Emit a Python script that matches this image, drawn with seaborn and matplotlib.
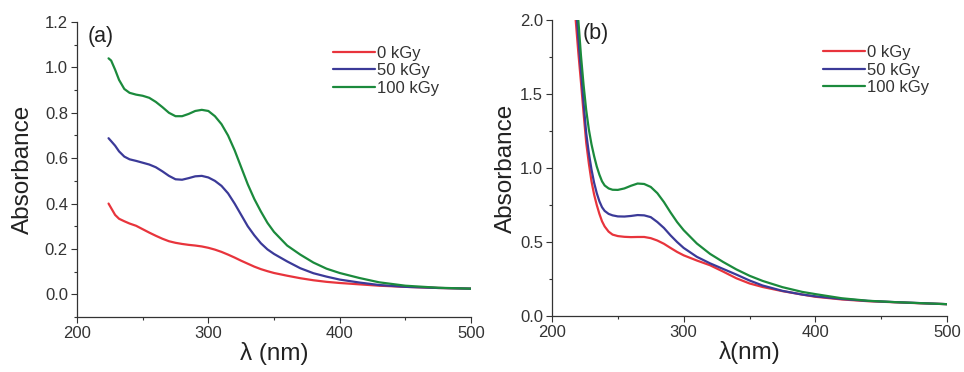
import numpy as np
import pandas as pd
import matplotlib
matplotlib.use("Agg")
import matplotlib.pyplot as plt
from matplotlib.ticker import MultipleLocator
import seaborn as sns

# Panel (a) spectra
wl_a = [224, 226, 229, 232, 236, 240, 245, 250, 255, 260, 265, 270, 275, 280, 285,
        290, 295, 300, 305, 310, 315, 320, 325, 330, 335, 340, 345, 350, 360, 370,
        380, 390, 400, 415, 430, 450, 475, 500]
a_0kgy = [0.40, 0.38, 0.35, 0.333, 0.322, 0.312, 0.302, 0.287, 0.272, 0.258, 0.245,
          0.234, 0.227, 0.222, 0.218, 0.215, 0.211, 0.205, 0.197, 0.187, 0.175,
          0.162, 0.148, 0.135, 0.122, 0.111, 0.102, 0.094, 0.082, 0.071, 0.062,
          0.055, 0.05, 0.044, 0.038, 0.033, 0.028, 0.025]
a_50kgy = [0.688, 0.675, 0.655, 0.63, 0.607, 0.595, 0.588, 0.58, 0.572, 0.56, 0.542,
           0.522, 0.507, 0.505, 0.512, 0.52, 0.522, 0.515, 0.50, 0.478, 0.445, 0.40,
           0.35, 0.30, 0.26, 0.225, 0.198, 0.178, 0.145, 0.115, 0.093, 0.078, 0.065,
           0.052, 0.041, 0.033, 0.028, 0.025]
a_100kgy = [1.04, 1.03, 0.99, 0.945, 0.905, 0.888, 0.88, 0.875, 0.866, 0.848, 0.825,
            0.80, 0.785, 0.785, 0.795, 0.808, 0.813, 0.808, 0.785, 0.75, 0.70, 0.635,
            0.56, 0.485, 0.42, 0.365, 0.315, 0.275, 0.215, 0.175, 0.14, 0.113, 0.094,
            0.072, 0.053, 0.038, 0.029, 0.025]

# Panel (b) spectra
wl_b = [214, 216, 218, 220, 222, 224, 226, 228, 230, 232, 234, 236, 238, 240, 243,
        246, 250, 255, 260, 265, 270, 275, 280, 285, 290, 295, 300, 310, 320, 330,
        340, 350, 360, 375, 390, 400, 420, 440, 460, 480, 500]
b_0kgy = [2.6, 2.28, 2.0, 1.78, 1.58, 1.37, 1.17, 1.03, 0.91, 0.82, 0.75, 0.69, 0.64,
          0.605, 0.57, 0.55, 0.54, 0.535, 0.533, 0.534, 0.534, 0.526, 0.51, 0.488,
          0.46, 0.433, 0.41, 0.375, 0.343, 0.30, 0.255, 0.22, 0.196, 0.168, 0.145,
          0.13, 0.112, 0.10, 0.093, 0.086, 0.08]
b_50kgy = [2.75, 2.45, 2.13, 1.88, 1.66, 1.44, 1.235, 1.10, 0.99, 0.90, 0.83, 0.775,
           0.735, 0.71, 0.69, 0.68, 0.673, 0.672, 0.676, 0.682, 0.68, 0.668, 0.635,
           0.595, 0.545, 0.50, 0.46, 0.40, 0.356, 0.318, 0.28, 0.24, 0.206, 0.17,
           0.145, 0.133, 0.115, 0.102, 0.094, 0.087, 0.08]
b_100kgy = [2.95, 2.6, 2.28, 2.0, 1.76, 1.56, 1.39, 1.26, 1.16, 1.08, 1.01, 0.955,
            0.91, 0.882, 0.862, 0.853, 0.852, 0.862, 0.88, 0.895, 0.892, 0.872, 0.83,
            0.77, 0.70, 0.635, 0.58, 0.49, 0.42, 0.365, 0.315, 0.272, 0.237, 0.195,
            0.163, 0.148, 0.12, 0.103, 0.094, 0.087, 0.08]

doses = ["0 kGy", "50 kGy", "100 kGy"]
colors = ["#e8343c", "#3b3a98", "#1b8a3c"]


def long_form(wl, series):
    frames = []
    for dose, vals in zip(doses, series):
        frames.append(pd.DataFrame({"wl": wl, "abs": vals, "dose": dose}))
    return pd.concat(frames, ignore_index=True)


df_a = long_form(wl_a, [a_0kgy, a_50kgy, a_100kgy])
df_b = long_form(wl_b, [b_0kgy, b_50kgy, b_100kgy])

sns.set_style("ticks")
plt.rcParams["font.family"] = ["Liberation Sans", "DejaVu Sans"]
plt.rcParams["axes.edgecolor"] = "#333333"
plt.rcParams["xtick.color"] = "#333333"
plt.rcParams["ytick.color"] = "#333333"

fig = plt.figure(figsize=(9.64, 3.72), dpi=100)
ax_a = fig.add_axes([0.0799, 0.1478, 0.4087, 0.7930])
ax_b = fig.add_axes([0.5726, 0.1505, 0.4098, 0.7958])

panels = [
    (ax_a, df_a, (-0.1, 1.2), 0.2, 0.1, "λ (nm)", "(a)", (0.028, 0.95), (0.65, 0.92), 8),
    (ax_b, df_b, (0.0, 2.0), 0.5, 0.25, "λ(nm)", "(b)", (0.078, 0.953), (0.686, 0.915), 2),
]

for ax, df, ylim, ymaj, ymin, xlabel, tag, tag_pos, leg_pos, ypad in panels:
    sns.lineplot(data=df, x="wl", y="abs", hue="dose", hue_order=doses,
                 palette=colors, linewidth=1.6, ax=ax, sort=False)
    ax.set_xlim(200, 500)
    ax.set_ylim(*ylim)
    ax.xaxis.set_major_locator(MultipleLocator(100))
    ax.xaxis.set_minor_locator(MultipleLocator(50))
    ax.yaxis.set_major_locator(MultipleLocator(ymaj))
    ax.yaxis.set_minor_locator(MultipleLocator(ymin))
    ax.tick_params(which="major", length=4.5, width=0.8, labelsize=12, pad=2)
    ax.tick_params(which="minor", length=2.5, width=0.8)
    for side in ["top", "right"]:
        ax.spines[side].set_visible(False)
    for side in ["left", "bottom"]:
        ax.spines[side].set_linewidth(0.9)
    ax.set_xlabel(xlabel, fontsize=17.5, labelpad=1, color="#222222")
    ax.set_ylabel("Absorbance", fontsize=17.5, labelpad=ypad, color="#222222")
    ax.text(tag_pos[0], tag_pos[1], tag, transform=ax.transAxes, fontsize=15.5,
            va="center", ha="left", color="#222222")
    ax.legend(loc="upper left", bbox_to_anchor=leg_pos, frameon=False,
              fontsize=12, handlelength=2.5, handletextpad=0.15,
              labelspacing=0.15, borderpad=0, borderaxespad=0,
              labelcolor="#333333")

fig.savefig("out.png", dpi=100)
